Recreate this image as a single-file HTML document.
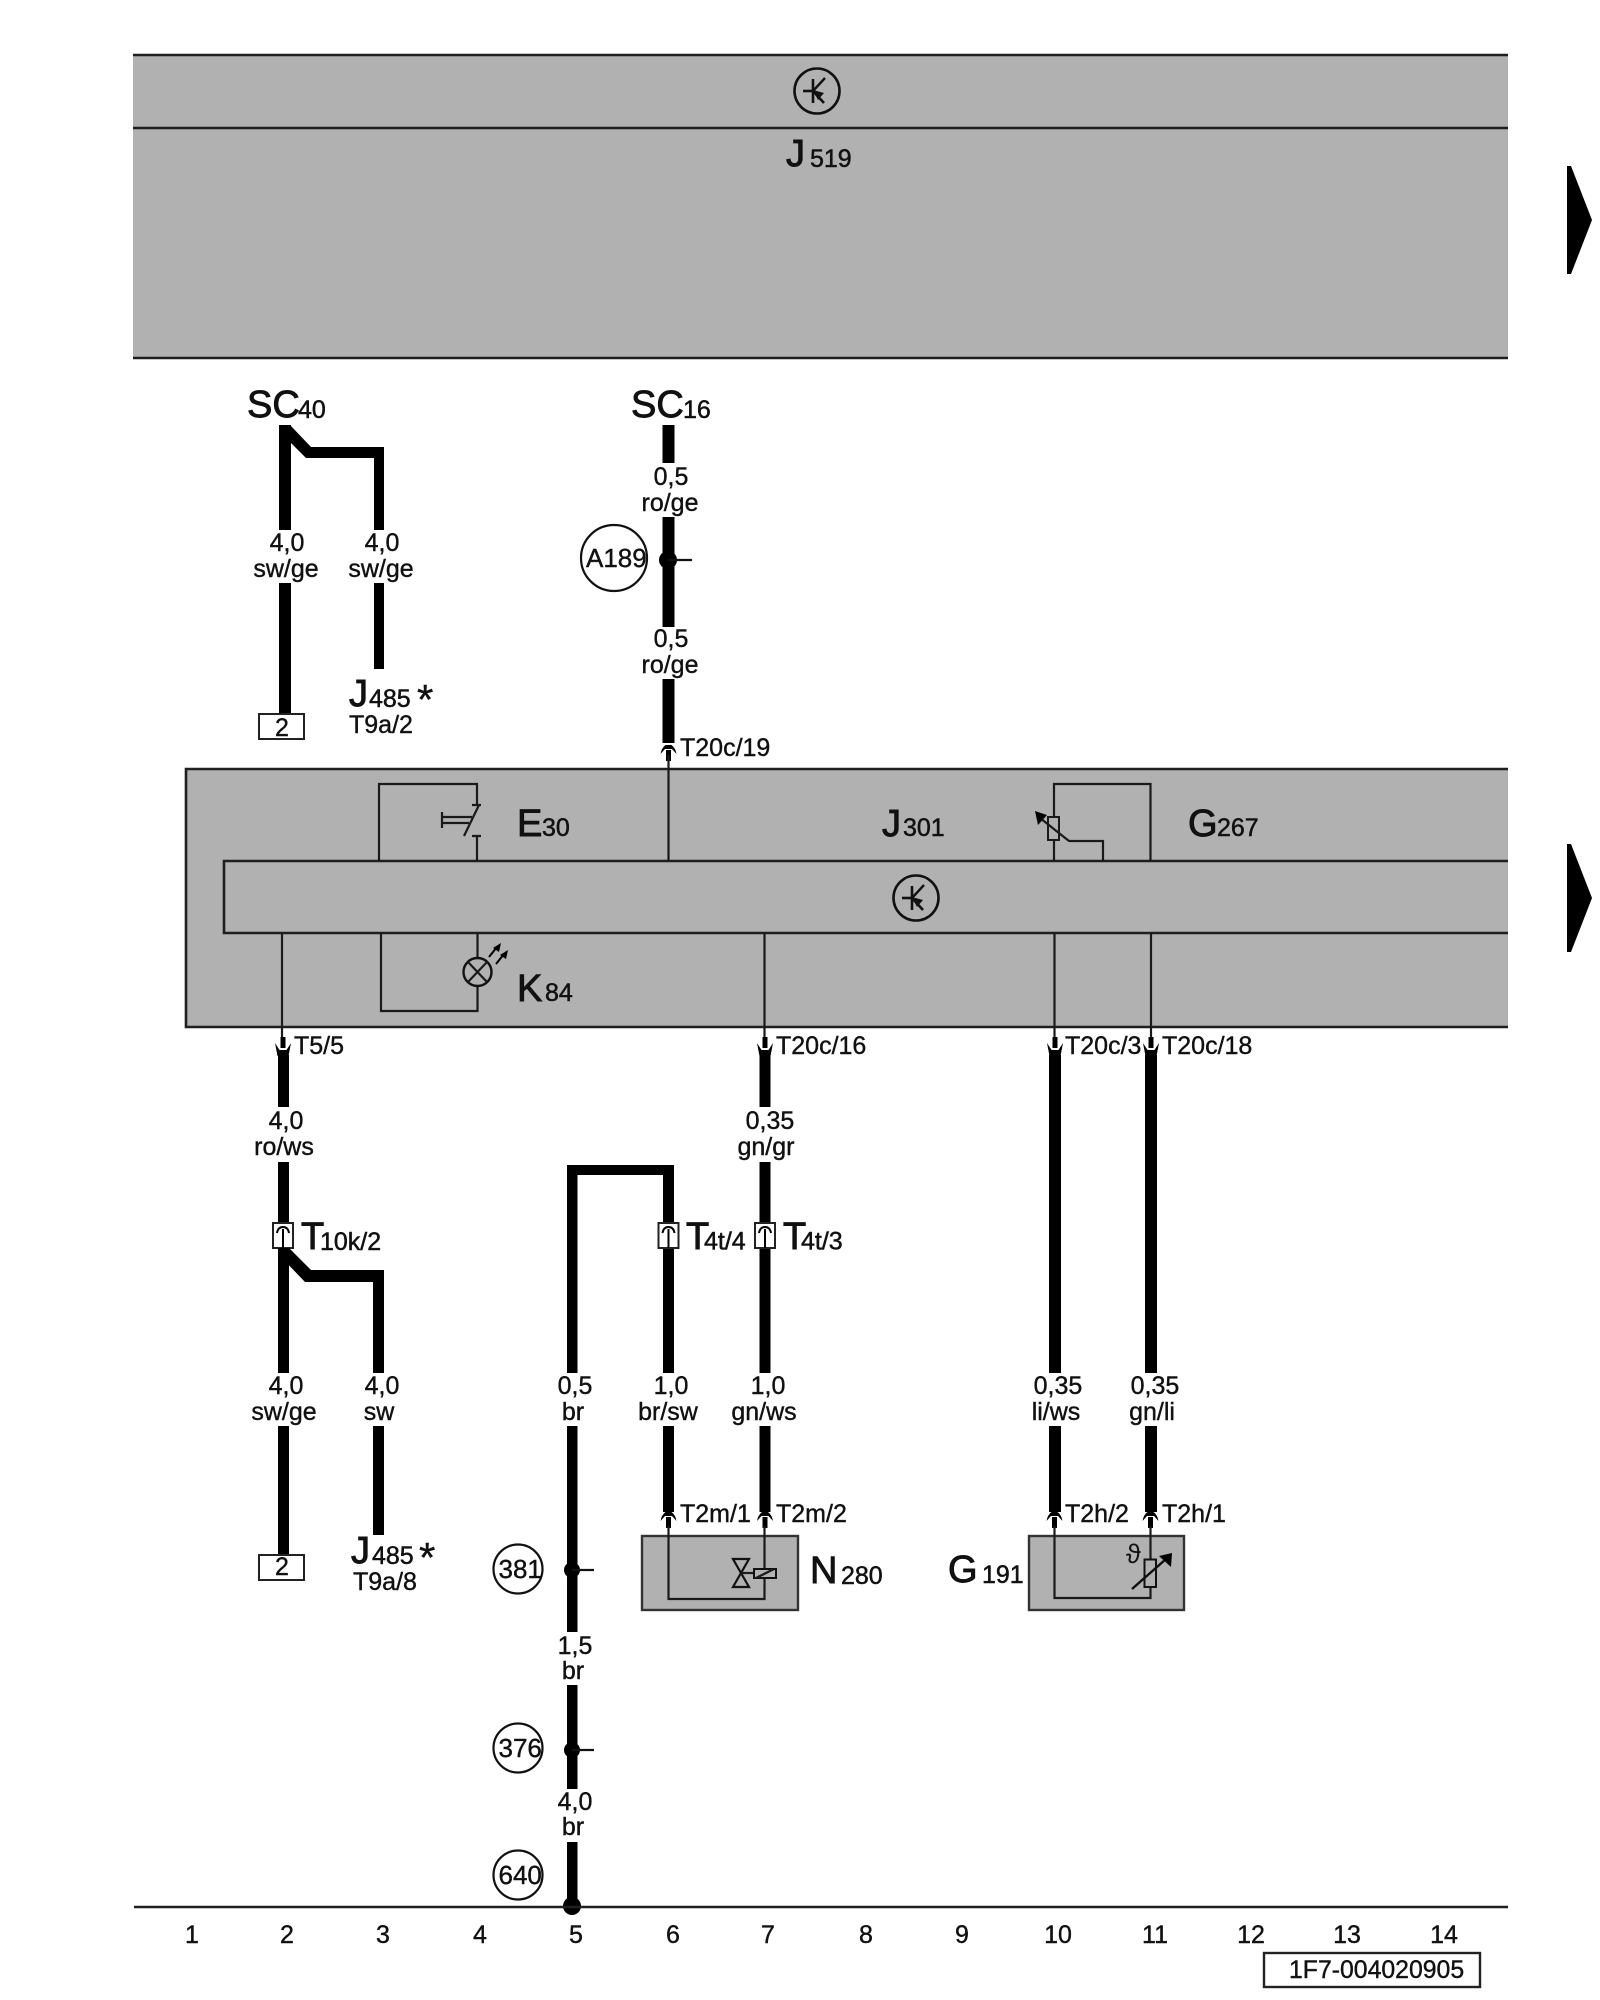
<!DOCTYPE html>
<html lang="de">
<head>
<meta charset="utf-8">
<title>Wiring diagram</title>
<style>
html,body{margin:0;padding:0;background:#fff;width:1600px;height:2000px;overflow:hidden}
svg{display:block}
text{font-family:"Liberation Sans",Arial,sans-serif;fill:#111}
.l{font-size:25px;text-anchor:middle;stroke:#111;stroke-width:.4}
.t{font-size:25px;stroke:#111;stroke-width:.4}
.c{font-size:26px;stroke:#111;stroke-width:.4}
.b{font-size:38px;stroke:#111;stroke-width:.9}
.s{font-size:25px;stroke:#111;stroke-width:.5}
.w{stroke:#000;stroke-width:12;fill:none;stroke-linejoin:miter}
.th{stroke:#1a1a1a;stroke-width:2.2;fill:none}
.box{fill:#b1b1b1;stroke:none}
.ln{stroke:#1f1f1f;stroke-width:2.6;fill:none}
</style>
</head>
<body>
<svg xmlns="http://www.w3.org/2000/svg" width="1600" height="2000" viewBox="0 0 1600 2000">
<defs>
<g id="td">
<line x1="0" y1="-16" x2="0" y2="-6" stroke="#000" stroke-width="2.2"/>
<rect x="-2.5" y="-16" width="5" height="11" fill="#000"/>
<path d="M-8,-10 L-5.5,3 L5.5,3 L8,-10 L3.5,-3 L-3.5,-3 Z" fill="#000"/>
</g>
<g id="tu">
<path d="M-8,9 Q-7,3 -3,0 L3,0 Q7,3 8,9 L3.5,4 L-3.5,4 Z" fill="#000"/>
<rect x="-2.5" y="5" width="5" height="11" fill="#000"/>
</g>
<g id="tr">
<circle cx="0" cy="0" r="22.5" fill="none" stroke="#111" stroke-width="2.6"/>
<line x1="-14" y1="0" x2="-4" y2="0" stroke="#111" stroke-width="2.6"/>
<line x1="-4" y1="-12" x2="-4" y2="12" stroke="#111" stroke-width="2.6"/>
<line x1="-4" y1="0" x2="8" y2="-13" stroke="#111" stroke-width="2.4"/>
<line x1="-4" y1="0" x2="7" y2="12" stroke="#111" stroke-width="2.6"/>
<path d="M-4,-1 L7,2 L1,9 Z" fill="#111"/>
</g>
<g id="cn">
<rect x="-10" y="0" width="20" height="25" fill="#fff" stroke="#222" stroke-width="2"/>
<line x1="0" y1="6" x2="0" y2="25" stroke="#000" stroke-width="2"/>
<path d="M-6,10 Q-5,4 0,4 Q5,4 6,10" fill="none" stroke="#000" stroke-width="2"/>
</g>
</defs>

<!-- J519 box -->
<rect class="box" x="133" y="55" width="1375" height="303"/>
<line class="ln" x1="133" y1="55" x2="1508" y2="55"/>
<line class="ln" x1="133" y1="128" x2="1508" y2="128"/>
<line class="ln" x1="133" y1="358" x2="1508" y2="358"/>
<use href="#tr" x="817" y="91"/>
<text class="b" x="786" y="166">J</text><text class="s" x="810" y="167">519</text>

<!-- Triangles -->
<polygon points="1567,166 1571,166 1592,220 1571,274 1567,274" fill="#000"/>
<polygon points="1567,844 1571,844 1592,898 1571,952 1567,952" fill="#000"/>

<!-- SC40 -->
<text class="b" x="247" y="417">SC</text><text class="s" x="298" y="418">40</text>
<path class="w" d="M285,425 V530"/>
<path class="w" d="M285,583 V714"/>
<path d="M279,425 L290,425 L311,447 L384,447 L384,530 L374,530 L374,458 L306,458 L285,437 Z" fill="#000"/>
<rect x="374" y="583" width="10" height="86" fill="#000"/>
<text class="l" x="287" y="551">4,0</text><text class="l" x="286" y="577">sw/ge</text>
<text class="l" x="382" y="551">4,0</text><text class="l" x="381" y="577">sw/ge</text>
<rect x="259" y="714" width="45" height="25" fill="#fff" stroke="#222" stroke-width="2"/>
<text class="l" x="282" y="736">2</text>
<text class="b" x="349" y="706">J</text><text class="s" x="369" y="707">485</text>
<text x="417" y="714" style="font-size:42px;stroke:#111;stroke-width:.4">*</text>
<text class="t" x="349" y="733">T9a/2</text>

<!-- SC16 -->
<text class="b" x="631" y="417">SC</text><text class="s" x="683" y="418">16</text>
<rect x="662.5" y="425" width="12" height="38" fill="#000"/>
<rect x="662.5" y="517" width="12" height="110" fill="#000"/>
<rect x="662.5" y="679" width="12" height="64" fill="#000"/>
<text class="l" x="671" y="485">0,5</text><text class="l" x="670" y="511">ro/ge</text>
<text class="l" x="671" y="647">0,5</text><text class="l" x="670" y="673">ro/ge</text>
<circle cx="614" cy="558" r="33" fill="#fff" stroke="#111" stroke-width="2.2"/>
<text class="c" x="586" y="567">A189</text>
<circle cx="668" cy="560" r="9" fill="#000"/>
<line x1="668" y1="560" x2="692" y2="560" stroke="#111" stroke-width="2.2"/>
<text class="t" x="680" y="756">T20c/19</text>

<!-- J301 box -->
<rect class="box" x="186" y="769" width="1322" height="258"/>
<path class="ln" d="M1508,769 H186 V1027 H1508"/>
<path class="ln" d="M1508,861 H224 V933 H1508"/>
<use href="#tu" x="668.5" y="745"/>
<line class="th" x1="668.5" y1="755" x2="668.5" y2="861"/>
<!-- E30 -->
<path class="th" d="M379,861 V784 H477 V805"/>
<path class="th" d="M477,836 V861"/>
<path class="th" d="M472,805 H481 M472,836 H481"/>
<line class="th" x1="479" y1="805" x2="464" y2="836"/>
<path class="th" d="M442,812 V828 M442,817 H472 M442,823 H469"/>
<text class="b" x="517" y="836">E</text><text class="s" x="542" y="836">30</text>
<!-- J301 -->
<text class="b" x="882" y="836">J</text><text class="s" x="903" y="836">301</text>
<!-- G267 -->
<path class="th" d="M1054,861 V784 H1150.5 V861"/>
<rect x="1048" y="817" width="11" height="23" fill="#b1b1b1" stroke="#1a1a1a" stroke-width="2"/>
<path class="th" d="M1103,861 V841 H1069 L1040,818"/>
<polygon points="1035,811 1047,815 1038,825" fill="#000"/>
<text class="b" x="1188" y="836">G</text><text class="s" x="1217" y="836">267</text>
<use href="#tr" x="916" y="898"/>
<!-- K84 -->
<path class="th" d="M381,933 V1011 H477.5 V986"/>
<line class="th" x1="477.5" y1="933" x2="477.5" y2="958"/>
<circle cx="477.5" cy="972" r="14" fill="none" stroke="#111" stroke-width="2.4"/>
<path class="th" d="M468,962 L487,982 M487,962 L468,982"/>
<path d="M489,957 L497,947" stroke="#000" stroke-width="2"/>
<polygon points="501,943 499,952 493,948" fill="#000"/>
<path d="M496,964 L504,954" stroke="#000" stroke-width="2"/>
<polygon points="508,950 506,959 500,955" fill="#000"/>
<text class="b" x="517" y="1001">K</text><text class="s" x="545" y="1001">84</text>

<!-- Lower thin lines -->
<line class="th" x1="282" y1="933" x2="282" y2="1040"/>
<line class="th" x1="764.5" y1="933" x2="764.5" y2="1040"/>
<line class="th" x1="1054.5" y1="933" x2="1054.5" y2="1040"/>
<line class="th" x1="1151" y1="933" x2="1151" y2="1040"/>

<use href="#td" x="283" y="1053"/>
<use href="#td" x="765" y="1053"/>
<use href="#td" x="1055" y="1053"/>
<use href="#td" x="1151" y="1053"/>
<text class="t" x="294" y="1054">T5/5</text>
<text class="t" x="776" y="1054">T20c/16</text>
<text class="t" x="1065" y="1054">T20c/3</text>
<text class="t" x="1162" y="1054">T20c/18</text>

<!-- Column 2/3 lower -->
<rect x="278" y="1055" width="11" height="52" fill="#000"/>
<rect x="278" y="1162" width="11" height="211" fill="#000"/>
<rect x="278" y="1426" width="11" height="129" fill="#000"/>
<text class="l" x="286" y="1129">4,0</text><text class="l" x="284" y="1155">ro/ws</text>
<use href="#cn" x="283" y="1223"/>
<text class="b" x="301" y="1249">T</text><text class="s" x="320" y="1250">10k/2</text>
<path d="M278,1248 L289,1248 L311,1270 L384,1270 L384,1373 L373,1373 L373,1282 L305,1282 L282,1258 Z" fill="#000"/>
<text class="l" x="286" y="1394">4,0</text><text class="l" x="284" y="1420">sw/ge</text>
<text class="l" x="382" y="1394">4,0</text><text class="l" x="379" y="1420">sw</text>
<rect x="373" y="1426" width="11" height="109" fill="#000"/>
<rect x="259" y="1555" width="45" height="25" fill="#fff" stroke="#222" stroke-width="2"/>
<text class="l" x="282" y="1575">2</text>
<text class="b" x="351" y="1563">J</text><text class="s" x="372" y="1564">485</text>
<text x="419" y="1572" style="font-size:42px;stroke:#111;stroke-width:.4">*</text>
<text class="t" x="353" y="1590">T9a/8</text>

<!-- Column 5 -->
<path d="M567,1373 V1165 H674 V1223 H663 V1175 H577.5 V1373 Z" fill="#000"/>
<rect x="567" y="1426" width="10.5" height="206" fill="#000"/>
<rect x="567" y="1685" width="10.5" height="104" fill="#000"/>
<rect x="567" y="1842" width="10.5" height="66" fill="#000"/>
<text class="l" x="575" y="1394">0,5</text><text class="l" x="573" y="1420">br</text>
<text class="l" x="575" y="1654">1,5</text><text class="l" x="573" y="1679">br</text>
<text class="l" x="575" y="1810">4,0</text><text class="l" x="573" y="1835">br</text>
<circle cx="518" cy="1569" r="24.5" fill="#fff" stroke="#111" stroke-width="2.2"/>
<text class="c" x="498.5" y="1578">381</text>
<circle cx="572" cy="1570" r="8" fill="#000"/>
<line x1="572" y1="1570" x2="594" y2="1570" stroke="#111" stroke-width="2.2"/>
<circle cx="518" cy="1748" r="24.5" fill="#fff" stroke="#111" stroke-width="2.2"/>
<text class="c" x="498.5" y="1757">376</text>
<circle cx="572" cy="1750" r="8" fill="#000"/>
<line x1="572" y1="1750" x2="594" y2="1750" stroke="#111" stroke-width="2.2"/>
<circle cx="518" cy="1875" r="24.5" fill="#fff" stroke="#111" stroke-width="2.2"/>
<text class="c" x="498.5" y="1884">640</text>
<circle cx="572" cy="1906" r="9" fill="#000"/>

<!-- Column 6/7 -->
<rect x="663" y="1248" width="11" height="125" fill="#000"/>
<rect x="663" y="1426" width="11" height="86" fill="#000"/>
<rect x="759.5" y="1055" width="11" height="52" fill="#000"/>
<rect x="759.5" y="1162" width="11" height="211" fill="#000"/>
<rect x="759.5" y="1426" width="11" height="86" fill="#000"/>
<text class="l" x="770" y="1129">0,35</text><text class="l" x="766" y="1155">gn/gr</text>
<use href="#cn" x="668.5" y="1223"/>
<use href="#cn" x="765" y="1223"/>
<text class="b" x="686" y="1249">T</text><text class="s" x="704" y="1249.5">4t/4</text>
<text class="b" x="783" y="1249">T</text><text class="s" x="801" y="1249.5">4t/3</text>
<text class="l" x="671" y="1394">1,0</text><text class="l" x="668" y="1420">br/sw</text>
<text class="l" x="768" y="1394">1,0</text><text class="l" x="764" y="1420">gn/ws</text>
<use href="#tu" x="668.5" y="1512"/>
<use href="#tu" x="765" y="1512"/>
<text class="t" x="680" y="1522">T2m/1</text>
<text class="t" x="776" y="1522">T2m/2</text>
<!-- N280 -->
<rect x="642" y="1536" width="156" height="74" fill="#b1b1b1" stroke="#333" stroke-width="2.4"/>
<path class="th" d="M668.5,1526 V1599 H764.5 V1526"/>
<path d="M733,1559 H749 L733,1587 H749 Z" fill="none" stroke="#111" stroke-width="2.2"/>
<line class="th" x1="741" y1="1573" x2="754" y2="1573"/>
<rect x="754" y="1569" width="22" height="9" fill="#b1b1b1" stroke="#111" stroke-width="2"/>
<line class="th" x1="756" y1="1578" x2="774" y2="1569"/>
<text class="b" x="810" y="1583">N</text><text class="s" x="841" y="1584">280</text>

<!-- Column 10/11 -->
<rect x="1049" y="1055" width="12" height="318" fill="#000"/>
<rect x="1049" y="1426" width="12" height="86" fill="#000"/>
<rect x="1145" y="1055" width="12" height="318" fill="#000"/>
<rect x="1145" y="1426" width="12" height="86" fill="#000"/>
<text class="l" x="1058" y="1394">0,35</text><text class="l" x="1056" y="1420">li/ws</text>
<text class="l" x="1155" y="1394">0,35</text><text class="l" x="1152" y="1420">gn/li</text>
<use href="#tu" x="1054.5" y="1512"/>
<use href="#tu" x="1150.5" y="1512"/>
<text class="t" x="1065" y="1522">T2h/2</text>
<text class="t" x="1162" y="1522">T2h/1</text>
<!-- G191 -->
<rect x="1029" y="1536" width="155" height="74" fill="#b1b1b1" stroke="#333" stroke-width="2.4"/>
<path class="th" d="M1054.5,1526 V1598 H1150.5 V1587 M1150.5,1559 V1526"/>
<rect x="1144.5" y="1559.5" width="11.5" height="27.5" fill="#b1b1b1" stroke="#111" stroke-width="2"/>
<line x1="1132" y1="1589" x2="1166" y2="1559" stroke="#111" stroke-width="2.4"/>
<polygon points="1172,1553 1171,1567 1159,1556" fill="#000"/>
<text x="1126" y="1563" style="font-size:27px">ϑ</text>
<text class="b" x="948" y="1582">G</text><text class="s" x="982" y="1583">191</text>

<!-- Baseline -->
<line class="ln" x1="134" y1="1907" x2="1508" y2="1907"/>
<g class="num">
<text class="l" x="192" y="1943">1</text>
<text class="l" x="287" y="1943">2</text>
<text class="l" x="383" y="1943">3</text>
<text class="l" x="480" y="1943">4</text>
<text class="l" x="576" y="1943">5</text>
<text class="l" x="673" y="1943">6</text>
<text class="l" x="768" y="1943">7</text>
<text class="l" x="866" y="1943">8</text>
<text class="l" x="962" y="1943">9</text>
<text class="l" x="1058" y="1943">10</text>
<text class="l" x="1155" y="1943">11</text>
<text class="l" x="1251" y="1943">12</text>
<text class="l" x="1347" y="1943">13</text>
<text class="l" x="1444" y="1943">14</text>
</g>
<rect x="1264" y="1953" width="216" height="34" fill="#fff" stroke="#222" stroke-width="2.4"/>
<text x="1289" y="1978" style="font-size:24.8px;stroke:#111;stroke-width:.4">1F7-004020905</text>
</svg>
</body>
</html>
